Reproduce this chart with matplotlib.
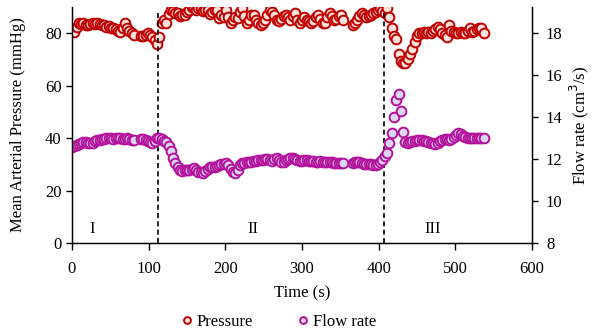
import numpy as np
import matplotlib
matplotlib.use("Agg")
import matplotlib.pyplot as plt

plt.rcParams["font.family"] = ["Liberation Serif", "DejaVu Serif"]
plt.rcParams["font.size"] = 12

# sample times (s), one reading every 3 s
time = np.arange(0, 540, 3)

# mean arterial pressure (mmHg); None = no reading
pressure = [
    81, 80.5, 82.5, 83.8, 83.5, 84, 83.2, 83, 83.5, 83.8,
    83.5, 84, 83.5, 83, 83, 82.5, 82.8, 82, 82, 81.5,
    81, 80.5, 82, 83.8, 82, 81, 80, 79.5, None, None,
    79, 79, 79.5, 80, 79.5, 78.6, 77.5, 76, 78.6, 83.8,
    85, 84, 87.5, 88.8, 88.5, 87.6, 87.6, 86.5, 86.9, 86.9,
    88, 89, 90, 89.5, 88.8, 89.5, 89.5, 88.5, 88.8, 88.8,
    87.5, 88, 88.8, 88.8, 85.7, 87, 86, 88.8, 86, 83.8,
    85, 86, 85.7, 88, 89.5, 86.5, 83.8, 85, 87, 86.9,
    85, 84, 83, 84, 85, 87, 88.8, 88, 86.9, 85,
    84.5, 85.5, 86.5, 86.9, 86, 85, 86.5, 87.6, 85, 83.8,
    85, 86, 85, 84.5, 83.8, 84.5, 86, 86.9, 85.5, 84,
    83.8, 86, 87.6, 86.5, 85, 85.5, 86.5, 86.9, 85, None,
    None, None, 83, 83.8, 85, 86.5, 87.6, 87, 86, 86.5,
    87, 87.6, 88, 89, 89.5, 88.5, 87.6, 89.5, 86, 82,
    79, 77.7, 72, 69.5, 68.6, 68.6, 70, 72, 74, 76.6,
    79, 80, 80, 80.5, 80, 80.5, 80, 81, 81.5, 82.3,
    81.5, 80, 79.5, 78.6, 83, 81, 80.5, 80, 80, 80.5,
    80, 80, 81, 81.9, 80.5, 81, 81.5, 82, 81.9, 80,
]

# flow rate (cm3/s)
flow = [
    12.57, 12.6, 12.65, 12.7, 12.75, 12.8, 12.8, 12.78, 12.76, 12.78,
    12.85, 12.9, 12.9, 12.95, 12.95, 13.0, 13.0, 13.0, 12.98, 13.0,
    13.02, 13.0, 12.95, 12.95, 13.0, 12.95, 12.9, 12.9, None, None,
    12.95, 12.95, 12.9, 12.85, 12.8, 12.76, 12.85, 13.0, 13.02, 12.95,
    12.85, 12.8, 12.6, 12.4, 12.05, 11.8, 11.6, 11.48, 11.45, 11.48,
    11.5, 11.5, 11.55, 11.57, 11.5, 11.4, 11.38, 11.35, 11.45, 11.55,
    11.6, 11.62, 11.6, 11.65, 11.7, 11.75, 11.78, 11.8, 11.7, 11.55,
    11.4, 11.35, 11.5, 11.7, 11.8, 11.82, 11.85, 11.85, 11.88, 11.9,
    11.92, 11.95, 11.95, 11.95, 11.98, 12.0, 11.95, 11.92, 12.0, 12.05,
    11.95, 11.88, 11.88, 11.95, 12.02, 12.05, 12.05, 12.0, 11.95, 11.92,
    11.92, 11.95, 11.95, 11.9, 11.9, 11.9, 11.88, 11.88, 11.9, 11.88,
    11.85, 11.85, 11.86, 11.85, 11.82, 11.8, 11.8, 11.8, 11.8, None,
    None, None, 11.8, 11.86, 11.88, 11.85, 11.8, 11.78, 11.75, 11.75,
    11.78, 11.72, 11.7, 11.75, 11.85, 11.95, 12.15, 12.3, 12.75, 13.25,
    14.0, 14.8, 15.1, 14.3, 13.3, 12.8, 12.76, 12.8, 12.85, 12.88,
    12.9, 12.92, 12.92, 12.88, 12.85, 12.8, 12.78, 12.75, 12.72, 12.76,
    12.85, 12.9, 12.95, 12.95, 12.9, 12.95, 13.05, 13.15, 13.22, 13.2,
    13.1, 13.05, 13.02, 13.0, 13.0, 13.0, 13.0, 13.0, 13.0, 13.0,
]

phase_bounds = [112, 407]
phase_names = ["I", "II", "III"]
phase_pos = [26, 236, 470]

p = np.array(pressure, dtype=float)
q = np.array(flow, dtype=float)

fig = plt.figure(figsize=(5.97, 3.33), dpi=100)
ax = fig.add_axes([0.1206, 0.2703, 0.7705, 0.7087])
ax2 = ax.twinx()

ax.plot(time, p, "o", ms=7, mew=1.4, mec="#C00000", mfc="#FDE3DC", label="Pressure")
ax2.plot(time, q, "o", ms=7, mew=1.4, mec="#B3139B", mfc="#DCD6F7", label="Flow rate")

for b in phase_bounds:
    ax.plot([b, b], [0, 88.8], color="black", lw=1.2, dashes=(3, 2))
for name, xpos in zip(phase_names, phase_pos):
    ax.text(xpos, 5.5, name, ha="center", va="center", fontsize=12)

ax.set_xlim(0, 600)
ax.set_ylim(0, 90)
ax.set_xticks(range(0, 601, 100))
ax.set_yticks(range(0, 81, 20))
ax2.set_ylim(8, 19.25)
ax2.set_yticks(range(8, 19, 2))

for a in (ax, ax2):
    a.spines["top"].set_visible(False)
    a.tick_params(direction="out", length=4, width=1)
ax.tick_params(axis="x", length=5, pad=8)
ax2.tick_params(axis="y", pad=6)
ax.spines["left"].set_linewidth(1)
ax.spines["bottom"].set_linewidth(1)
ax2.spines["right"].set_linewidth(1)

ax.set_xlabel("Time (s)", fontsize=12, labelpad=6)
ax.set_ylabel("Mean Arterial Pressure (mmHg)", fontsize=12, labelpad=14)
ax2.set_ylabel("Flow rate (cm$^3$/s)", fontsize=12, labelpad=4)

h1, l1 = ax.get_legend_handles_labels()
h2, l2 = ax2.get_legend_handles_labels()
fig.legend(h1 + h2, l1 + l2, loc="lower center", bbox_to_anchor=(0.465, -0.035),
           ncol=2, frameon=False, fontsize=12, handletextpad=0.1,
           columnspacing=2.5, handlelength=1, markerscale=0.7)

fig.savefig("out.png", dpi=100)
